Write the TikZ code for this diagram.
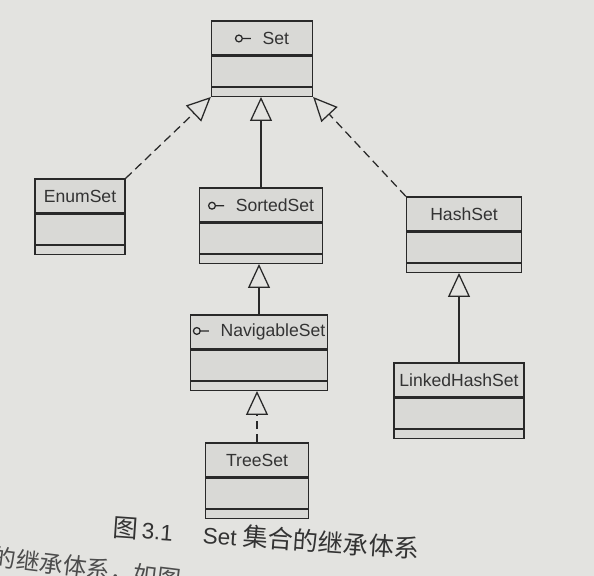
\documentclass[tikz,border=0pt]{standalone}
\usepackage{fontspec}
\setmainfont{Liberation Sans}
\newfontfamily\cjk[Scale=1.12]{Noto Sans CJK SC}
\usepackage{tikz}
\usetikzlibrary{arrows.meta,positioning}
% small interface mark in front of a name
\newcommand{\ifc}{\tikz[baseline=-0.6ex]{\draw[line width=0.9pt,draw=cln] (0,0) circle (0.085cm) (0.085cm,0) -- (0.3cm,0);}\hspace{0.28cm}}
\begin{document}
\begin{tikzpicture}[x=0.025cm,y=-0.025cm,
  ctitle/.style={draw=cln,fill=cbox,line width=0.9pt,minimum height=0.85cm,text=ctx,inner sep=0pt,font=\fontsize{12.5}{14}\selectfont},
  cattr/.style={draw=cln,fill=cbox,line width=0.9pt,minimum height=0.75cm,inner sep=0pt},
  cop/.style={draw=cln,fill=cbox,line width=0.9pt,minimum height=0.22cm,inner sep=0pt},
  isa/.style={-{Triangle[open,length=0.6cm,width=0.55cm]},draw=cln,line width=0.9pt},
  real/.style={isa,dash pattern=on 6pt off 3.5pt}]
%
\definecolor{cbg}{rgb}{0.89,0.89,0.88}
\definecolor{cbox}{rgb}{0.85,0.85,0.84}
\definecolor{cln}{rgb}{0.16,0.16,0.16}
\definecolor{ctx}{rgb}{0.2,0.2,0.2}
\definecolor{ctxl}{rgb}{0.3,0.3,0.3}
%
\fill[cbg] (0,0) rectangle (594,576);
\useasboundingbox (0,0) rectangle (594,576);
%
\node[ctitle,minimum width=2.525cm] (set) at (262,38) {\ifc Set};
\node[cattr,minimum width=2.525cm,below=0pt of set] (set-attr) {};
\node[cop,minimum width=2.525cm,below=0pt of set-attr] (set-op) {};
%
\node[ctitle,minimum width=2.25cm] (enum) at (80,196) {EnumSet};
\node[cattr,minimum width=2.25cm,below=0pt of enum] (enum-attr) {};
\node[cop,minimum width=2.25cm,below=0pt of enum-attr] (enum-op) {};
%
\node[ctitle,minimum width=3.075cm] (sorted) at (261,205) {\ifc SortedSet};
\node[cattr,minimum width=3.075cm,below=0pt of sorted] (sorted-attr) {};
\node[cop,minimum width=3.075cm,below=0pt of sorted-attr] (sorted-op) {};
%
\node[ctitle,minimum width=3.425cm] (navi) at (259,332) {\ifc NavigableSet};
\node[cattr,minimum width=3.425cm,below=0pt of navi] (navi-attr) {};
\node[cop,minimum width=3.425cm,below=0pt of navi-attr] (navi-op) {};
%
\node[ctitle,minimum width=2.575cm] (tree) at (257,460) {TreeSet};
\node[cattr,minimum width=2.575cm,below=0pt of tree] (tree-attr) {};
\node[cop,minimum width=2.575cm,below=0pt of tree-attr] (tree-op) {};
%
\node[ctitle,minimum width=2.875cm] (hash) at (464,214) {HashSet};
\node[cattr,minimum width=2.875cm,below=0pt of hash] (hash-attr) {};
\node[cop,minimum width=2.875cm,below=0pt of hash-attr] (hash-op) {};
%
\node[ctitle,minimum width=3.25cm] (linked) at (459,380) {LinkedHashSet};
\node[cattr,minimum width=3.25cm,below=0pt of linked] (linked-attr) {};
\node[cop,minimum width=3.25cm,below=0pt of linked-attr] (linked-op) {};
%
\draw[real] (enum.north east) -- (set-op.south west);
\draw[isa] (sorted.north) -- (sorted.north |- set-op.south);
\draw[real] (hash.north west) -- (set-op.south east);
\draw[isa] (navi.north) -- (navi.north |- sorted-op.south);
\draw[real] (tree.north) -- (tree.north |- navi-op.south);
\draw[isa] (linked.north) -- (linked.north |- hash-op.south);
%
\node[text=ctx,rotate=-4,font=\fontsize{16}{18}\selectfont] (cap) at (266,538)
  {{\cjk 图}\,3.1\hspace{0.75cm}Set {\cjk 集合的继承体系}};
\node[text=ctxl,anchor=west,rotate=-7,font=\fontsize{15}{18}\selectfont] (body) at (-12,556)
  {\cjk 的继承体系，如图};
%
\end{tikzpicture}
\end{document}
